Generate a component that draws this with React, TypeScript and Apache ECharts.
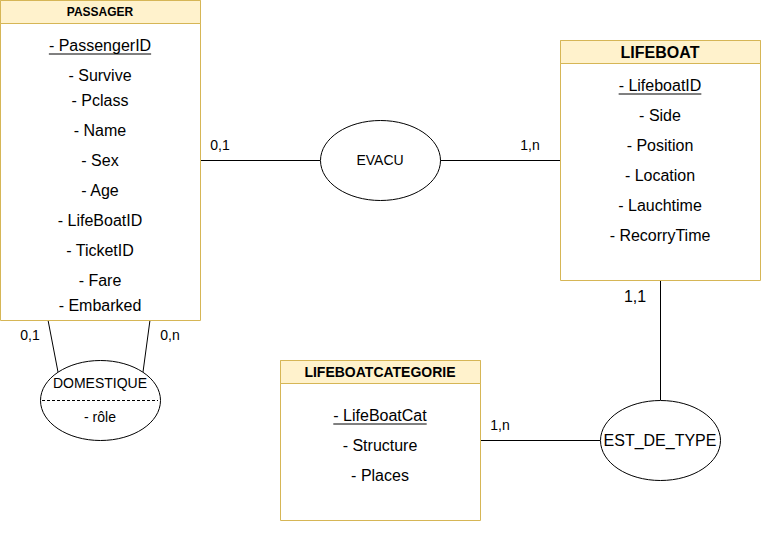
import { useRef, useEffect } from "react";
import * as echarts from "echarts";

const FONT = "Liberation Sans, Arial, sans-serif";
const FILL = "#fff2cc";
const STROKE = "#d6b656";

const passagerAttrs = ["- PassengerID", "- Survive", "- Pclass", "- Name", "- Sex", "- Age", "- LifeBoatID", "- TicketID", "- Fare", "- Embarked"];
const passagerY = [45, 75, 100, 130, 160, 190, 220, 250, 280, 305];
const lifeboatAttrs = ["- LifeboatID", "- Side", "- Position", "- Location", "- Lauchtime", "- RecorryTime"];
const categorieAttrs = ["- LifeBoatCat", "- Structure", "- Places"];
const cardinals = [
  { t: "0,1", x: 220, y: 145, s: 14 },
  { t: "1,n", x: 530, y: 145, s: 14 },
  { t: "0,1", x: 30, y: 335, s: 14 },
  { t: "0,n", x: 170, y: 335, s: 14 },
  { t: "1,1", x: 635, y: 296, s: 16 },
  { t: "1,n", x: 500, y: 425, s: 14 },
];

function textW(t: string, size: number) {
  const c = document.createElement("canvas").getContext("2d")!;
  c.font = `${size}px ${FONT}`;
  return c.measureText(t).width;
}

function txt(t: string, x: number, y: number, size: number, bold = false): any {
  return {
    type: "text", x, y, silent: true,
    style: { text: t, fill: "#000", font: `${bold ? "bold " : ""}${size}px ${FONT}`, align: "center", verticalAlign: "middle" },
  };
}

function line(x1: number, y1: number, x2: number, y2: number, dash?: number[]): any {
  return { type: "line", shape: { x1, y1, x2, y2 }, style: { stroke: "#000", lineWidth: 1, lineDash: dash } };
}

function underline(t: string, x: number, y: number, size: number) {
  const w = textW(t, size);
  return line(x - w / 2, y + size / 2 + 1, x + w / 2, y + size / 2 + 1);
}

function entity(x: number, y: number, w: number, h: number, title: string, tsize: number, attrs: string[], ys: number[], asize: number) {
  const els: any[] = [
    { type: "rect", shape: { x: x + 0.5, y: y + 0.5, width: w, height: h }, style: { fill: "#fff", stroke: STROKE } },
    { type: "rect", shape: { x: x + 0.5, y: y + 0.5, width: w, height: 23 }, style: { fill: FILL, stroke: STROKE } },
    txt(title, x + w / 2, y + 12, tsize, true),
  ];
  attrs.forEach((a, i) => {
    els.push(txt(a, x + w / 2, ys[i], asize));
    if (i === 0) els.push(underline(a, x + w / 2, ys[i], asize));
  });
  return els;
}

function ellipse(cx: number, cy: number): any {
  return { type: "ellipse", shape: { cx, cy, rx: 60, ry: 40 }, style: { fill: "#fff", stroke: "#000" } };
}

export default function App() {
  const ref = useRef<HTMLDivElement>(null);
  useEffect(() => {
    if (!ref.current) return;
    const chart = echarts.init(ref.current, null, { renderer: "svg" });
    const els: any[] = [
      line(200, 160.5, 320, 160.5),
      line(440, 160.5, 560, 160.5),
      line(48, 320, 58, 372),
      line(150, 320, 143, 372),
      line(660.5, 280, 660.5, 400),
      line(480, 440.5, 600, 440.5),
      ...entity(0, 0, 200, 320, "PASSAGER", 12, passagerAttrs, passagerY, 16),
      ...entity(560, 40, 200, 240, "LIFEBOAT", 16, lifeboatAttrs, lifeboatAttrs.map((_, i) => 85 + i * 30), 16),
      ...entity(280, 360, 200, 160, "LIFEBOATCATEGORIE", 14, categorieAttrs, categorieAttrs.map((_, i) => 415 + i * 30), 16),
      ellipse(380.5, 160.5),
      txt("EVACU", 380, 160, 14),
      ellipse(100.5, 400.5),
      txt("DOMESTIQUE", 100, 383, 14),
      line(42, 400.5, 158, 400.5, [3, 2]),
      txt("- rôle", 100, 417, 14),
      ellipse(660.5, 440.5),
      txt("EST_DE_TYPE", 660, 440, 16),
      ...cardinals.map((c) => txt(c.t, c.x, c.y, c.s)),
    ];
    chart.setOption({ animation: false, graphic: { elements: els } });
    return () => chart.dispose();
  }, []);
  return <div ref={ref} style={{ position: "fixed", left: 0, top: 0, width: 761, height: 551, background: "#fff" }} />;
}
